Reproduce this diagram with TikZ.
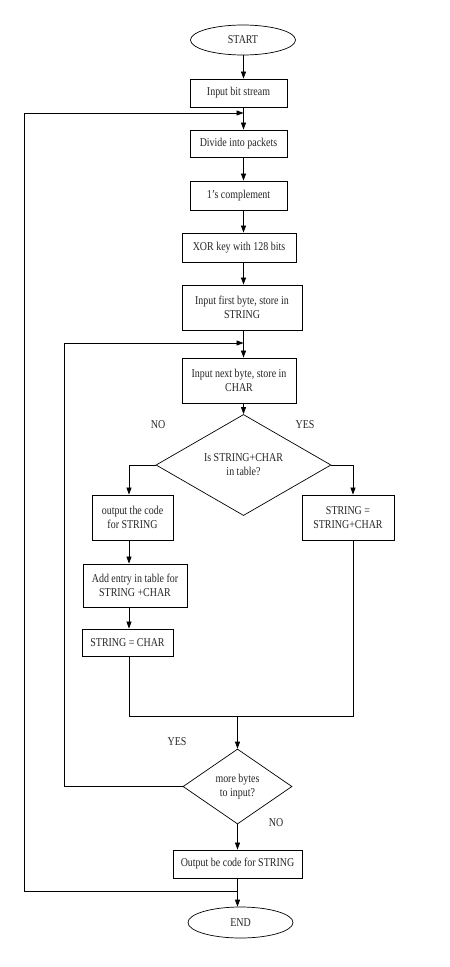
\documentclass[tikz,border=0pt]{standalone}
\usepackage{fontspec}
\setmainfont{Liberation Serif}[FakeStretch=0.83]
\usetikzlibrary{shapes.geometric,arrows.meta}
\begin{document}
\begin{tikzpicture}[x=1pt,y=-1pt,
  every node/.style={font=\fontsize{12}{14}\selectfont, text=black!85},
  box/.style={draw, line width=0.8pt, rectangle, inner sep=1pt, align=center},
  term/.style={draw, line width=0.7pt, ellipse, inner sep=0pt},
  dec/.style={draw, line width=0.7pt, diamond, inner sep=0pt, align=center},
  lbl/.style={inner sep=0pt},
  arr/.style={line width=0.7pt, -{Triangle[length=7pt,width=5pt]}},
  ln/.style={line width=0.7pt}]
\useasboundingbox (0,0) rectangle (450,967);
\fill[white] (0,0) rectangle (450,967);

\node[term, minimum width=105pt, minimum height=30pt] (start) at (243,40) {START};
\node[box, minimum width=97pt, minimum height=28pt] (in) at (238.5,93) {Input bit stream};
\node[box, minimum width=97pt, minimum height=27pt] (div) at (238.5,143.5) {Divide into packets};
\node[box, minimum width=97pt, minimum height=29pt] (comp) at (238.5,195.5) {1's complement};
\node[box, minimum width=114pt, minimum height=29pt] (xor) at (239,247.5) {XOR key with 128 bits};
\node[box, minimum width=120pt, minimum height=45pt] (first) at (242,307.5) {Input first byte, store in\\STRING};
\node[box, minimum width=114pt, minimum height=45pt] (next) at (239,380.5) {Input next byte, store in\\CHAR};
\node[dec, minimum width=175pt, minimum height=76pt] (d1) at (243.5,465) {Is STRING+CHAR\\in table?};
\node[box, minimum width=81pt, minimum height=45pt] (out) at (132.5,517.5) {output the code\\for STRING};
\node[box, minimum width=92pt, minimum height=45pt] (sc) at (348,517.5) {STRING =\\STRING+CHAR};
\node[box, minimum width=104pt, minimum height=43pt] (add) at (135,585.5) {Add entry in table for\\STRING +CHAR};
\node[box, minimum width=91pt, minimum height=27pt] (sch) at (127.5,642.5) {STRING = CHAR};
\node[dec, minimum width=109pt, minimum height=75pt] (d2) at (237.5,786.5) {more bytes\\to input?};
\node[box, minimum width=129pt, minimum height=28pt] (outb) at (237.5,864) {Output be code for STRING};
\node[term, minimum width=105pt, minimum height=31pt] (end) at (240.5,922.5) {END};

\node[lbl] (no1) at (158,425) {NO};
\node[lbl] (yes1) at (305,425) {YES};
\node[lbl] (yes2) at (177,742) {YES};
\node[lbl] (no2) at (276,823) {NO};

% coordinates
\coordinate (topjoin) at (243.5,113);
\coordinate (outerL) at (24,113);
\coordinate (outerB) at (24,891);
\coordinate (botjoin) at (237.5,891);
\coordinate (innerjoin) at (243.5,343);
\coordinate (innerL) at (64,343);
\coordinate (lbr) at (129,465);
\coordinate (rbr) at (353,465);
\coordinate (mergeL) at (129,716);
\coordinate (mergeR) at (353,716);
\coordinate (mergeC) at (237.5,716);

% main column
\draw[arr] (start.south -| 243.5,0) -- (243.5,0 |- in.north);
\draw[arr] (243.5,0 |- in.south) -- (243.5,0 |- div.north);
\draw[arr] (243.5,0 |- div.south) -- (243.5,0 |- comp.north);
\draw[arr] (243.5,0 |- comp.south) -- (243.5,0 |- xor.north);
\draw[arr] (243.5,0 |- xor.south) -- (243.5,0 |- first.north);
\draw[arr] (243.5,0 |- first.south) -- (243.5,0 |- next.north);
\draw[arr] (243.5,0 |- next.south) -- (d1.north);

% branches
\draw[arr] (d1.west) -- (lbr) -- (lbr |- out.north);
\draw[arr] (d1.east) -- (rbr) -- (rbr |- sc.north);
\draw[arr] (129,0 |- out.south) -- (129,0 |- add.north);
\draw[arr] (129,0 |- add.south) -- (129,0 |- sch.north);
\draw[ln] (129,0 |- sch.south) -- (mergeL) -- (mergeR) -- (353,0 |- sc.south);
\draw[arr] (mergeC) -- (d2.north);

% loops
\draw[arr] (d2.west) -- (d2.west -| innerL) -- (innerL) -- (innerjoin);
\draw[arr] (d2.south) -- (outb.north);
\draw[arr] (outb.south) -- (end.north -| outb.south);
\draw[ln] (botjoin) -- (outerB);
\draw[arr] (outerB) -- (outerL) -- (topjoin);
\end{tikzpicture}
\end{document}
